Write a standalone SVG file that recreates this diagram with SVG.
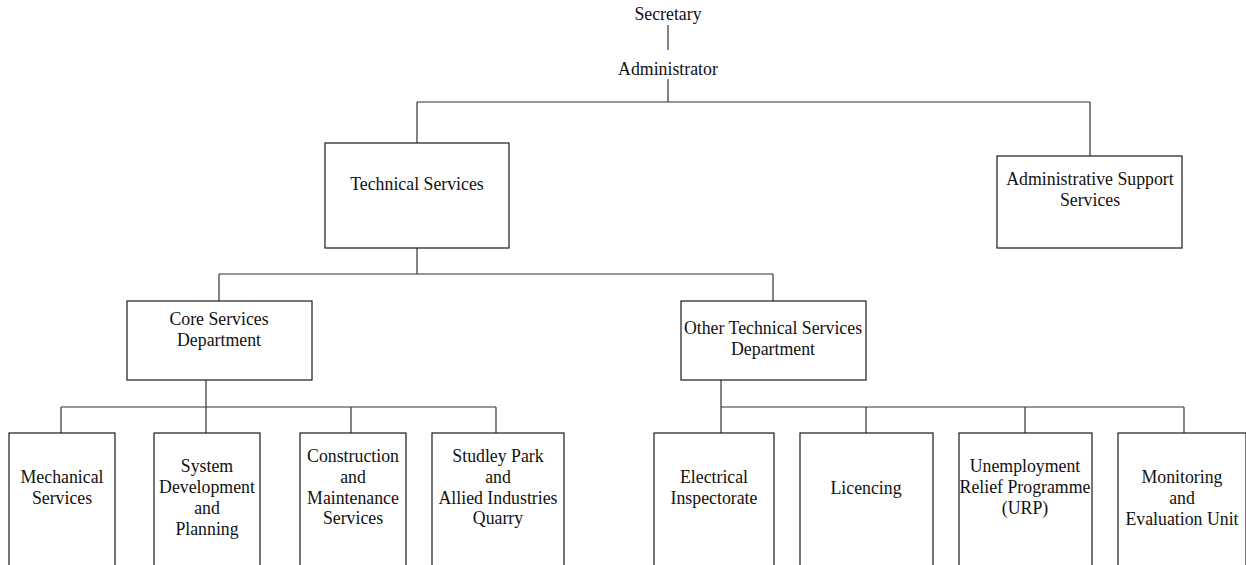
<svg xmlns="http://www.w3.org/2000/svg" width="1246" height="565" viewBox="0 0 1246 565">
  <style>
    .box { fill: #ffffff; stroke: #1a1a1a; stroke-width: 1.2; }
    .link { fill: none; stroke: #333333; stroke-width: 1.2; }
    .lbl { font-family: 'Liberation Serif', 'Times New Roman', serif; font-size: 17.8px; fill: #111111; text-anchor: middle; }
  </style>
  <rect width="1246" height="565" fill="#ffffff"/>

  <!-- connectors -->
  <g id="connectors">
    <path class="link" d="M668 25 V50"/>
    <path class="link" d="M668 79 V102 M417 102 H1090 M417 102 V143 M1090 102 V156"/>
    <path class="link" d="M417 248 V274 M219 274 H773 M219 274 V301 M773 274 V301"/>
    <path class="link" d="M206 380 V407 M61 407 H496 M61 407 V433 M206 407 V433 M351 407 V433 M496 407 V433"/>
    <path class="link" d="M721 380 V407 M721 407 H1184 M721 407 V433 M866 407 V433 M1025 407 V433 M1184 407 V433"/>
  </g>

  <g id="secretary">
    <text class="lbl" x="668" y="20">Secretary</text>
  </g>
  <g id="administrator">
    <text class="lbl" x="668" y="75">Administrator</text>
  </g>

  <g id="technical-services">
    <rect class="box" x="325" y="143" width="184" height="105"/>
    <text class="lbl" x="417" y="190">Technical Services</text>
  </g>
  <g id="administrative-support">
    <rect class="box" x="997" y="156" width="185" height="92"/>
    <text class="lbl" x="1090" y="185">Administrative Support</text>
    <text class="lbl" x="1090" y="206">Services</text>
  </g>

  <g id="core-services">
    <rect class="box" x="127" y="301" width="185" height="79"/>
    <text class="lbl" x="219" y="325">Core Services</text>
    <text class="lbl" x="219" y="346">Department</text>
  </g>
  <g id="other-technical">
    <rect class="box" x="681" y="301" width="185" height="79"/>
    <text class="lbl" x="773" y="334">Other Technical Services</text>
    <text class="lbl" x="773" y="355">Department</text>
  </g>

  <g id="mechanical">
    <rect class="box" x="9" y="433" width="106" height="140"/>
    <text class="lbl" x="62" y="483">Mechanical</text>
    <text class="lbl" x="62" y="504">Services</text>
  </g>
  <g id="system-development">
    <rect class="box" x="154" y="433" width="106" height="140"/>
    <text class="lbl" x="207" y="472">System</text>
    <text class="lbl" x="207" y="493">Development</text>
    <text class="lbl" x="207" y="514">and</text>
    <text class="lbl" x="207" y="535">Planning</text>
  </g>
  <g id="construction">
    <rect class="box" x="300" y="433" width="106" height="140"/>
    <text class="lbl" x="353" y="462">Construction</text>
    <text class="lbl" x="353" y="483">and</text>
    <text class="lbl" x="353" y="504">Maintenance</text>
    <text class="lbl" x="353" y="524">Services</text>
  </g>
  <g id="studley-park">
    <rect class="box" x="432" y="433" width="132" height="140"/>
    <text class="lbl" x="498" y="462">Studley Park</text>
    <text class="lbl" x="498" y="483">and</text>
    <text class="lbl" x="498" y="504">Allied Industries</text>
    <text class="lbl" x="498" y="524">Quarry</text>
  </g>

  <g id="electrical">
    <rect class="box" x="654" y="433" width="120" height="140"/>
    <text class="lbl" x="714" y="483">Electrical</text>
    <text class="lbl" x="714" y="504">Inspectorate</text>
  </g>
  <g id="licencing">
    <rect class="box" x="800" y="433" width="133" height="140"/>
    <text class="lbl" x="866" y="494">Licencing</text>
  </g>
  <g id="urp">
    <rect class="box" x="959" y="433" width="133" height="140"/>
    <text class="lbl" x="1025" y="472">Unemployment</text>
    <text class="lbl" x="1025" y="493">Relief Programme</text>
    <text class="lbl" x="1025" y="514">(URP)</text>
  </g>
  <g id="monitoring">
    <rect class="box" x="1118" y="433" width="128" height="140"/>
    <text class="lbl" x="1182" y="483">Monitoring</text>
    <text class="lbl" x="1182" y="504">and</text>
    <text class="lbl" x="1182" y="525">Evaluation Unit</text>
  </g>
</svg>
